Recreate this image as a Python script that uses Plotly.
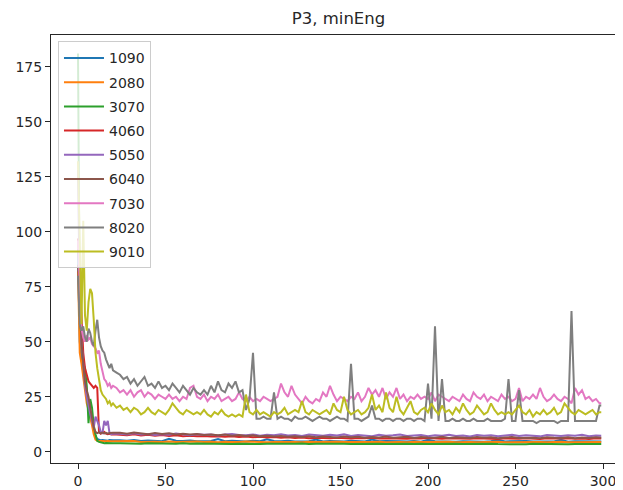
import plotly.graph_objects as go

# ---------------- data ----------------
series_names = ["1090", "2080", "3070", "4060", "5050", "6040", "7030", "8020", "9010"]
colors = ["#1f77b4", "#ff7f0e", "#2ca02c", "#d62728", "#9467bd",
          "#8c564b", "#e377c2", "#7f7f7f", "#bcbd22"]

x_early = list(range(0, 21))
x_noisy = x_early + list(range(22, 299, 2)) + [299]
x_low = x_early + list(range(24, 297, 4)) + [299]

x_ticks = [0, 50, 100, 150, 200, 250, 300]
y_ticks = [0, 25, 50, 75, 100, 125, 150, 175]

# low series: first 21 iterations
early_1090 = [92, 50, 42, 36, 30, 25, 22, 18, 14, 10, 7, 5.8, 5.4, 5.2, 5.3, 5.1, 5.2, 5.0, 5.3, 5.1, 5.2]
early_2080 = [82, 45, 40, 34, 28, 22, 19, 16, 12, 8, 5.5, 5.0, 4.9, 4.8, 4.9, 4.7, 4.8, 4.9, 4.7, 4.8, 4.8]
early_3070 = [181, 62, 52, 40, 38, 30, 13, 24, 20, 12, 8, 5.0, 4.5, 4.2, 4.0, 3.9, 4.0, 3.9, 3.8, 3.9, 3.9]
early_4060 = [97, 80, 60, 45, 38, 35, 32, 31, 30, 29, 30, 29, 9.0, 8.2, 8.8, 9.0, 8.3, 8.0, 8.2, 7.9, 8.0]
early_5050 = [128, 70, 50, 38, 30, 25, 20, 17, 14, 11, 16, 14, 12, 9, 8.5, 14, 12, 14, 8.5, 8.0, 8.3]
early_6040 = [85, 65, 50, 40, 32, 28, 25, 20, 15, 11, 9.0, 8.5, 8.8, 8.4, 8.7, 8.3, 8.6, 8.2, 8.5, 8.4, 8.6]

# low series: iterations 24, 28, ..., 296, 299
tail_1090 = [5.2, 5.0, 5.3, 4.9, 5.1, 5.0, 4.8, 5.9, 5.0, 4.9,
             5.1, 4.8, 5.0, 4.9, 5.8, 4.8, 5.0, 4.9, 4.7, 5.0,
             4.8, 5.7, 4.9, 4.8, 5.0, 4.7, 4.9, 4.8, 5.6, 4.7,
             4.9, 4.8, 4.7, 5.0, 4.8, 4.7, 5.6, 4.8, 4.9, 4.7,
             4.8, 4.7, 4.9, 4.6, 5.5, 4.8, 4.7, 4.9, 4.6, 4.8,
             4.7, 4.9, 4.6, 4.8, 5.5, 4.7, 4.8, 4.6, 4.9, 4.7,
             4.6, 4.8, 4.7, 5.4, 4.6, 4.8, 4.7, 4.6, 4.8, 4.7]
tail_2080 = [4.8, 4.6, 4.9, 4.5, 4.7, 4.6, 4.4, 4.7, 4.5, 4.6,
             4.4, 4.7, 4.5, 4.6, 4.3, 4.6, 4.5, 4.4, 4.7, 4.5,
             4.6, 4.3, 4.5, 4.6, 4.4, 4.5, 4.3, 4.6, 4.4, 4.5,
             4.3, 4.6, 4.4, 4.5, 4.3, 4.5, 4.4, 4.6, 4.3, 4.5,
             4.4, 4.3, 4.6, 4.4, 4.5, 4.3, 4.4, 4.6, 4.3, 4.5,
             4.4, 4.3, 4.5, 4.4, 4.6, 4.3, 4.4, 4.5, 4.3, 4.4,
             4.5, 4.3, 4.4, 4.6, 4.3, 4.4, 4.5, 4.3, 4.4, 4.5]
tail_3070 = [3.9, 3.8, 4.0, 3.7, 3.9, 3.8, 3.6, 3.8, 3.7, 3.9,
             3.6, 3.8, 3.7, 3.6, 3.8, 3.7, 3.5, 3.7, 3.6, 3.8,
             3.5, 3.7, 3.6, 3.5, 3.7, 3.6, 3.8, 3.5, 3.6, 3.7,
             3.5, 3.6, 3.7, 3.5, 3.6, 3.4, 3.7, 3.6, 3.5, 3.6,
             3.4, 3.6, 3.5, 3.7, 3.5, 3.6, 3.4, 3.5, 3.7, 3.5,
             3.6, 3.4, 3.5, 3.6, 3.5, 3.4, 3.6, 3.5, 3.4, 3.6,
             3.5, 3.4, 3.6, 3.5, 3.4, 3.5, 3.6, 3.4, 3.5, 3.5]
tail_4060 = [7.8, 7.5, 8.0, 7.4, 7.7, 7.3, 7.6, 7.2, 7.5, 7.1,
             7.3, 7.0, 7.2, 6.9, 7.1, 6.8, 7.0, 6.7, 6.9, 6.6,
             6.8, 6.5, 6.7, 6.4, 6.6, 6.3, 6.5, 6.2, 6.4, 6.3,
             6.1, 6.4, 6.2, 6.0, 6.3, 6.1, 6.4, 6.0, 6.2, 6.1,
             6.3, 5.9, 6.2, 6.0, 6.3, 6.1, 5.9, 6.2, 6.0, 6.1,
             5.9, 6.2, 6.0, 6.1, 5.8, 6.1, 6.0, 5.9, 6.2, 6.0,
             5.8, 6.1, 5.9, 6.0, 6.2, 5.9, 6.0, 5.8, 6.1, 6.0]
tail_5050 = [8.2, 7.9, 8.4, 7.8, 8.1, 7.6, 8.0, 7.7, 8.3, 7.9,
             7.5, 8.0, 7.7, 7.9, 7.4, 7.8, 8.1, 7.6, 7.5, 7.9,
             7.3, 7.7, 7.5, 8.0, 7.4, 7.6, 7.2, 7.8, 7.5, 7.3,
             7.7, 7.4, 7.9, 7.2, 7.6, 7.4, 7.1, 7.7, 7.3, 7.5,
             7.8, 7.2, 7.4, 7.6, 7.1, 7.5, 7.3, 7.7, 7.2, 7.4,
             7.0, 7.6, 7.3, 7.5, 7.1, 7.4, 7.7, 7.2, 7.5, 7.3,
             7.0, 7.6, 7.4, 7.2, 7.5, 7.3, 7.7, 7.1, 7.4, 7.3]
tail_6040 = [8.6, 8.2, 8.8, 8.3, 8.0, 8.5, 8.1, 8.4, 7.9, 8.2,
             7.8, 8.1, 7.6, 7.9, 7.5, 7.8, 7.3, 7.6, 7.2, 7.5,
             7.0, 7.3, 6.9, 7.2, 6.8, 7.1, 6.7, 7.0, 6.6, 6.9,
             6.8, 6.5, 6.9, 6.6, 6.8, 6.4, 6.7, 6.5, 6.9, 6.4,
             6.6, 6.8, 6.3, 6.7, 6.5, 6.4, 6.8, 6.3, 6.6, 6.5,
             6.3, 6.7, 6.4, 6.6, 6.2, 6.5, 6.7, 6.3, 6.5, 6.4,
             6.2, 6.6, 6.4, 6.3, 6.6, 6.2, 6.5, 6.3, 6.6, 6.4]

# noisy series: first 21 iterations
early_7030 = [96, 72, 56, 52, 50, 53, 51, 52, 49, 48, 47, 45, 46, 40, 36, 33, 32, 30, 31, 29, 30]
early_8020 = [80, 58, 55, 57, 52, 50, 56, 54, 50, 48, 55, 60, 52, 48, 46, 45, 42, 40, 38, 40, 37]
early_9010 = [132, 90, 58, 105, 62, 55, 68, 74, 72, 60, 45, 38, 33, 28, 26, 25, 24, 22, 23, 21, 22]

# noisy series: iterations 22, 24, ..., 298, 299
tail_7030 = [29, 27, 28, 26, 28, 25, 27, 28, 25, 27,
             26, 24, 26, 25, 24, 26, 24, 25, 23, 25,
             24, 29, 30, 25, 24, 26, 23, 25, 24, 26,
             23, 24, 25, 23, 24, 27, 24, 23, 25, 23,
             24, 23, 25, 24, 23, 24, 25, 31, 27, 25,
             30, 26, 24, 22, 25, 23, 22, 24, 23, 27,
             25, 30, 26, 23, 25, 24, 23, 25, 24, 27,
             23, 25, 29, 26, 28, 25, 29, 24, 27, 25,
             29, 24, 26, 23, 25, 24, 26, 24, 25, 24,
             27, 23, 26, 25, 24, 23, 25, 24, 23, 26,
             24, 23, 27, 25, 24, 26, 23, 25, 24, 23,
             26, 24, 25, 23, 24, 29, 23, 25, 24, 26,
             24, 29, 25, 23, 24, 26, 24, 23, 25, 24,
             22, 29, 26, 28, 24, 25, 23, 24, 22, 22]
tail_8020 = [36, 35, 33, 34, 31, 33, 30, 32, 34, 30,
             31, 29, 32, 29, 30, 28, 31, 29, 27, 30,
             28, 26, 29, 27, 26, 28, 26, 30, 27, 32,
             28, 27, 31, 29, 32, 27, 28, 19, 24, 45,
             15, 15, 16, 15, 15, 27, 15, 16, 15, 15,
             14, 16, 15, 15, 16, 15, 14, 15, 16, 15,
             15, 14, 15, 16, 15, 15, 14, 40, 15, 15,
             14, 15, 16, 21, 15, 15, 14, 15, 15, 14,
             15, 15, 14, 15, 15, 14, 15, 15, 14, 31,
             15, 57, 14, 33, 14, 14, 15, 14, 14, 15,
             14, 14, 15, 14, 14, 14, 15, 14, 14, 14,
             14, 15, 33, 14, 14, 28, 14, 14, 14, 14,
             13, 14, 14, 14, 14, 14, 13, 14, 14, 14,
             64, 14, 14, 14, 14, 14, 14, 14, 21, 21]
tail_9010 = [20, 21, 19, 20, 18, 20, 19, 17, 18, 20,
             18, 17, 19, 18, 17, 19, 22, 20, 18, 17,
             19, 18, 17, 18, 17, 19, 17, 16, 18, 17,
             19, 17, 16, 17, 16, 17, 16, 26, 18, 17,
             19, 17, 18, 17, 16, 18, 17, 18, 20, 17,
             18, 19, 18, 23, 18, 17, 19, 18, 17, 18,
             19, 17, 22, 19, 18, 25, 19, 17, 18, 19,
             17, 18, 20, 26, 19, 21, 18, 27, 20, 18,
             25, 19, 17, 20, 23, 18, 17, 19, 20, 18,
             22, 19, 17, 21, 18, 19, 17, 20, 18, 22,
             19, 17, 18, 21, 19, 17, 18, 22, 19, 17,
             18, 17, 18, 17, 19, 21, 18, 17, 19, 16,
             18, 17, 19, 17, 18, 20, 17, 18, 22, 20,
             18, 17, 19, 18, 17, 18, 19, 17, 18, 18]

y_series = [
    early_1090 + tail_1090,
    early_2080 + tail_2080,
    early_3070 + tail_3070,
    early_4060 + tail_4060,
    early_5050 + tail_5050,
    early_6040 + tail_6040,
    early_7030 + tail_7030,
    early_8020 + tail_8020,
    early_9010 + tail_9010,
]
x_series = [x_low] * 6 + [x_noisy] * 3

# ---------------- figure ----------------
# The page body has an 8px margin, so the figure is sized 615x482 to fill the 623x490 window.
FONT = "DejaVu Sans"
AX = "#262626"
W, H = 615, 482

fig = go.Figure()
for name, color, xs, ys in zip(series_names, colors, x_series, y_series):
    n = min(len(xs), len(ys))
    fig.add_trace(go.Scatter(
        x=xs[:n], y=ys[:n], mode="lines", name=name, legendgroup=name,
        line=dict(color=color, width=2),
    ))

fig.update_layout(
    width=W, height=H,
    margin=dict(l=43, r=0, t=27, b=27, pad=0),
    paper_bgcolor="white", plot_bgcolor="white",
    font=dict(family=FONT, size=14, color=AX),
    title=dict(text="P3, minEng", x=330.5 / W, xref="container", xanchor="center",
               y=1 - 10.5 / H, yref="container", yanchor="middle",
               font=dict(family=FONT, size=16.5, color=AX)),
    showlegend=True,
    legend=dict(x=0.0122, y=0.985, xanchor="left", yanchor="top",
                bgcolor="rgba(255,255,255,0.8)", bordercolor="#cccccc", borderwidth=1,
                font=dict(family=FONT, size=14, color=AX),
                tracegroupgap=3, itemwidth=40),
    xaxis=dict(range=[-15.43, 311.43], tickvals=x_ticks, ticks="outside", ticklen=5,
               tickwidth=1, tickcolor=AX, showline=True, linecolor=AX, linewidth=1,
               mirror=True, showgrid=False, zeroline=False),
    yaxis=dict(range=[-5.1, 189.4], tickvals=y_ticks, ticks="outside", ticklen=5,
               tickwidth=1, tickcolor=AX, showline=True, linecolor=AX, linewidth=1,
               mirror=False, showgrid=False, zeroline=False),
)

fig.write_html("out.html")
